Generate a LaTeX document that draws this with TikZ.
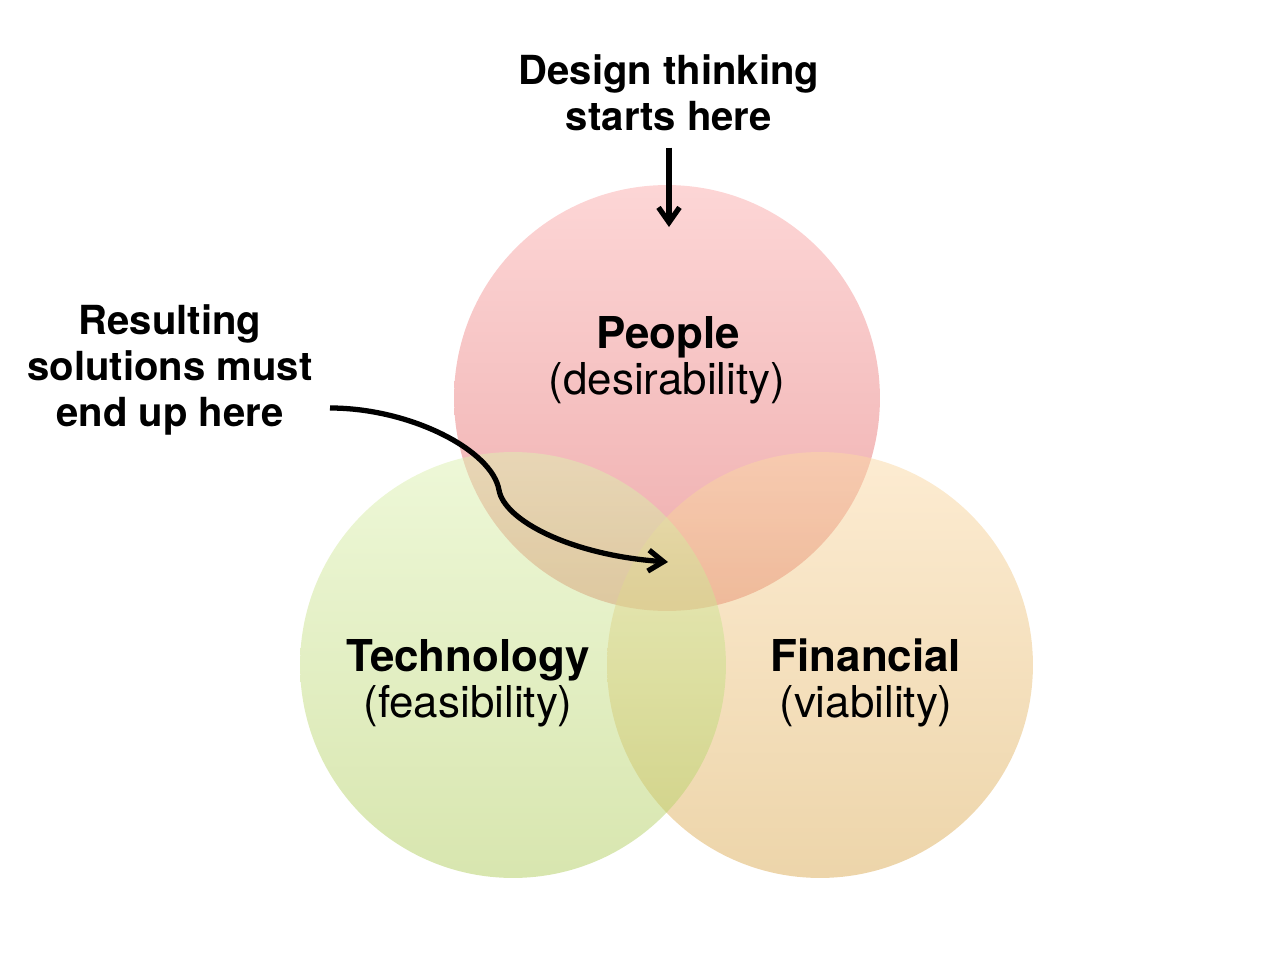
\documentclass[tikz,border=0pt]{standalone}
\usepackage{fontspec}
\setmainfont{TeX Gyre Heros}
\usetikzlibrary{arrows.meta}

\definecolor{peopletop}{RGB}{251,173,173}
\definecolor{peoplebot}{RGB}{221,90,90}
\definecolor{techtop}{RGB}{221,241,177}
\definecolor{techbot}{RGB}{177,205,95}
\definecolor{fintop}{RGB}{251,217,165}
\definecolor{finbot}{RGB}{219,171,85}

\begin{document}
\begin{tikzpicture}[x=0.02cm,y=-0.02cm,
  note/.style={anchor=base,inner sep=0pt,font=\fontsize{22.8}{26}\selectfont\bfseries},
  head/.style={anchor=base,inner sep=0pt,font=\fontsize{25}{30}\selectfont\bfseries},
  sub/.style={anchor=base,inner sep=0pt,font=\fontsize{25}{30}\selectfont},
  arrow/.style={line width=3pt,-{Straight Barb[length=0.3cm,width=0.42cm]}},
  disc/.style={fill opacity=0.5}]

\useasboundingbox (0,0) rectangle (1276,960);

% the three circles
\shade[disc,top color=peopletop,bottom color=peoplebot] (667,398) circle[radius=4.26cm];
\shade[disc,top color=fintop,bottom color=finbot] (820,665) circle[radius=4.26cm];
\shade[disc,top color=techtop,bottom color=techbot] (513,665) circle[radius=4.26cm];

\node[note] (design) at (669,84) {Design thinking};
\node[note] (starts) at (669,130) {starts here};

\node[note] (resulting) at (170,334) {Resulting};
\node[note] (solutions) at (170,380) {solutions must};
\node[note] (endup) at (170,426) {end up here};

\node[head] (people) at (668,348) {People};
\node[sub] (desir) at (667,394) {(desirability)};
\node[head] (tech) at (468,671) {Technology};
\node[sub] (feas) at (468,717) {(feasibility)};
\node[head] (fin) at (866,671) {Financial};
\node[sub] (viab) at (866,717) {(viability)};

\coordinate (peopletop) at (669,227);
\coordinate (solstart) at (330,408);
\coordinate (soltip) at (668,562);

\draw[arrow,shorten <=0.34cm] (starts.south) -- (peopletop);
\draw[arrow] (solstart) .. controls (410,408) and (492,450) .. (499,490)
  .. controls (504,520) and (570,555) .. (soltip);
\end{tikzpicture}
\end{document}
